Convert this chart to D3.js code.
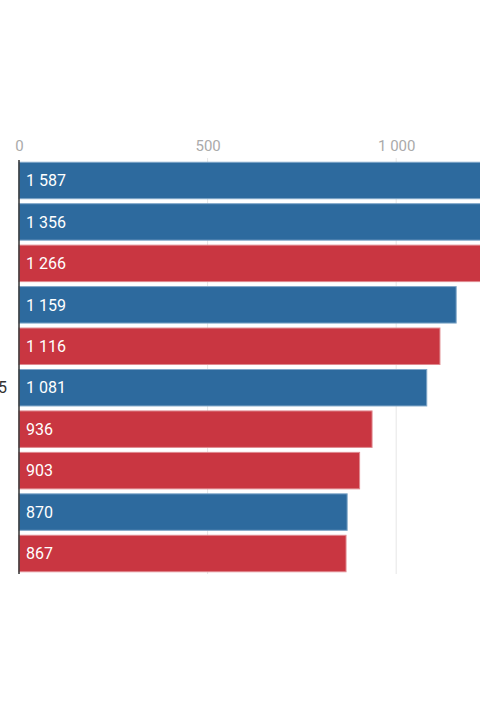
<!DOCTYPE html>
<html lang="en">
<head>
<meta charset="utf-8">
<title>Bars</title>
<script src="https://cdn.jsdelivr.net/npm/d3@7"></script>
<style>
  html, body { margin: 0; padding: 0; background: #fff; }
  svg { display: block; overflow: hidden; font-family: Roboto, "Noto Sans", sans-serif; }
  .tick text { fill: #aaa; font-size: 15px; }
  .grid line { stroke: #e6e6e6; stroke-width: 1; }
  .bar-label { fill: #fff; font-size: 16px; }
</style>
</head>
<body>
<script>
// data
var values = [1587, 1356, 1266, 1159, 1116, 1081, 936, 903, 870, 867];
var groups = ["blue", "blue", "red", "blue", "red", "blue", "red", "red", "blue", "red"];
var ticks = [0, 500, 1000];
var sideLabel = "5"; // only the tail of one category label is visible

var w = 480, h = 720;
var colors = { blue: "#2d6a9e", red: "#c93641" };
var edges = { blue: "#7fa6c8", red: "#e08a90" };

var svg = d3.select("body").append("svg")
  .attr("width", w)
  .attr("height", h);

var x = d3.scaleLinear()
  .domain([0, 1500])
  .range([19, 19 + 1500 * 0.3772]);

var y = d3.scaleBand()
  .domain(d3.range(values.length))
  .range([161, 573])
  .paddingInner(0.12)
  .paddingOuter(0.03);

var fmt = function(v) {
  return d3.format(",")(v).replace(/,/g, " ");
};

// gridlines
svg.append("g")
  .attr("class", "grid")
  .selectAll("line")
  .data(ticks.filter(function(t) { return t > 0; }))
  .enter()
  .append("line")
  .attr("x1", function(d) { return x(d); })
  .attr("x2", function(d) { return x(d); })
  .attr("y1", 158)
  .attr("y2", 574);

// top axis, labels only
var xAxis = d3.axisTop(x)
  .tickValues(ticks)
  .tickSize(0)
  .tickPadding(0)
  .tickFormat(fmt);

svg.append("g")
  .attr("transform", "translate(0,151)")
  .call(xAxis)
  .call(function(g) { g.select(".domain").remove(); })
  .selectAll("text")
  .style("font-family", "Roboto, sans-serif");

// bars
svg.selectAll("rect.bar")
  .data(values)
  .enter()
  .append("rect")
  .attr("class", "bar")
  .attr("x", x(0))
  .attr("y", function(d, i) { return y(i); })
  .attr("width", function(d) { return x(d) - x(0); })
  .attr("height", y.bandwidth())
  .style("fill", function(d, i) { return colors[groups[i]]; })
  .style("stroke", function(d, i) { return edges[groups[i]]; })
  .style("stroke-width", 1);

svg.selectAll("text.bar-label")
  .data(values)
  .enter()
  .append("text")
  .attr("class", "bar-label")
  .attr("x", x(0) + 7)
  .attr("y", function(d, i) { return y(i) + y.bandwidth() / 2; })
  .attr("dy", "0.36em")
  .text(fmt);

// left axis line
svg.append("line")
  .attr("x1", x(0))
  .attr("x2", x(0))
  .attr("y1", 160)
  .attr("y2", 574)
  .style("stroke", "#333")
  .style("stroke-width", 1.5);

// partly visible category label
svg.append("text")
  .attr("x", 7)
  .attr("y", y(5) + y.bandwidth() / 2)
  .attr("dy", "0.36em")
  .attr("text-anchor", "end")
  .style("font-size", "16px")
  .style("fill", "#333")
  .text(sideLabel);
</script>
</body>
</html>
